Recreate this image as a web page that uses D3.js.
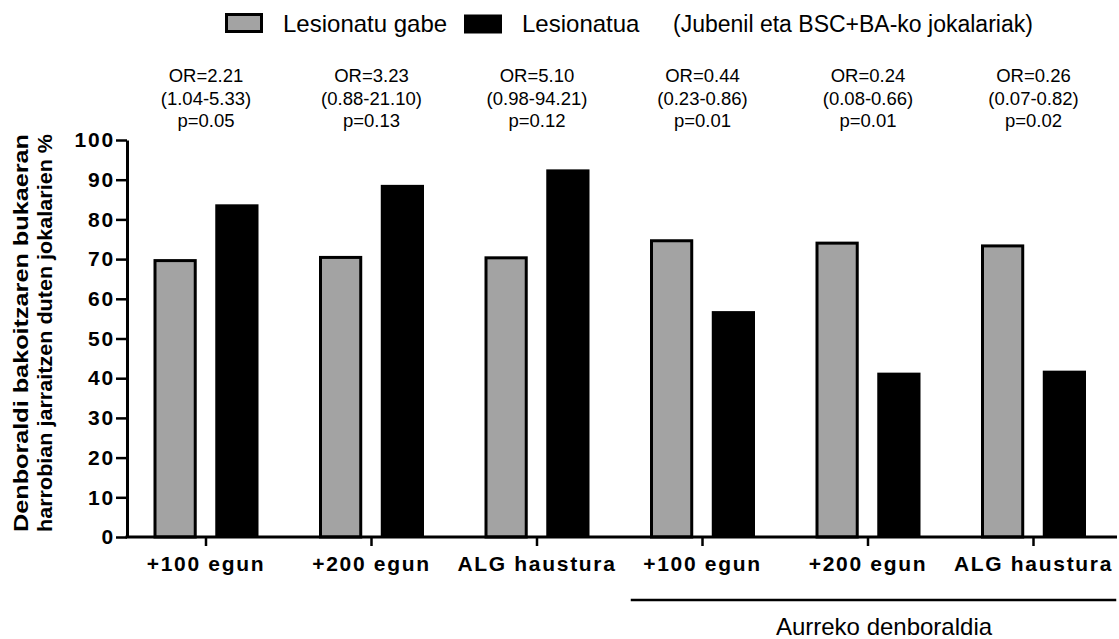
<!DOCTYPE html>
<html>
<head>
<meta charset="utf-8">
<script src="https://cdn.jsdelivr.net/npm/d3@7"></script>
<style>
  body { margin: 0; background: #fff; }
  svg { font-family: "Liberation Sans", Arial, sans-serif; }
</style>
</head>
<body>
<div id="chart"></div>
<script>
// Chart data
const categories = ["+100 egun", "+200 egun", "ALG haustura", "+100 egun", "+200 egun", "ALG haustura"];
const notInjured = [70.0, 70.8, 70.7, 75.0, 74.4, 73.7];
const injured = [83.8, 88.7, 92.6, 56.9, 41.4, 41.9];
const orLabels = ["OR=2.21", "OR=3.23", "OR=5.10", "OR=0.44", "OR=0.24", "OR=0.26"];
const ciLabels = ["(1.04-5.33)", "(0.88-21.10)", "(0.98-94.21)", "(0.23-0.86)", "(0.08-0.66)", "(0.07-0.82)"];
const pLabels = ["p=0.05", "p=0.13", "p=0.12", "p=0.01", "p=0.01", "p=0.02"];
const yTicks = [0, 10, 20, 30, 40, 50, 60, 70, 80, 90, 100];
const seriesNames = ["Lesionatu gabe", "Lesionatua"];

const width = 1119;
const height = 639;

const svg = d3.select("#chart")
    .append("svg")
    .attr("width", width)
    .attr("height", height);

const idx = categories.map((d, i) => i);

const x = d3.scaleBand()
    .domain(idx)
    .range([123.25, 1116.25])
    .padding(0);

const x1 = d3.scaleBand()
    .domain([0, 1])
    .range([-52.5, 52.5])
    .paddingInner(0.3);

const y = d3.scaleLinear()
    .domain([0, 100])
    .range([537, 140]);

const colors = ["#a3a3a3", "#000000"];

// Bars
const groups = svg.selectAll(".group")
    .data(idx)
    .enter()
    .append("g")
    .attr("transform", i => `translate(${x(i) + x.bandwidth() / 2},0)`);

groups.append("rect")
    .attr("x", x1(0) + 1.5)
    .attr("width", x1.bandwidth() - 3)
    .attr("y", i => y(notInjured[i]) + 1.5)
    .attr("height", i => y(0) - y(notInjured[i]) - 1.5)
    .attr("fill", colors[0])
    .attr("stroke", "#000")
    .attr("stroke-width", 3);

groups.append("rect")
    .attr("x", x1(1))
    .attr("width", x1.bandwidth())
    .attr("y", i => y(injured[i]))
    .attr("height", i => y(0) - y(injured[i]))
    .attr("fill", colors[1]);

// OR annotations
const notes = [orLabels, ciLabels, pLabels];
const noteY = [82, 105, 127];
notes.forEach((arr, k) => {
    svg.selectAll(".note" + k)
        .data(idx)
        .enter()
        .append("text")
        .attr("x", i => x(i) + x.bandwidth() / 2)
        .attr("y", noteY[k])
        .attr("text-anchor", "middle")
        .attr("font-size", 18.5)
        .text(i => arr[i]);
});

// Y axis
const yAxis = svg.append("g")
    .attr("transform", "translate(127,0)")
    .call(d3.axisLeft(y).tickValues(yTicks).tickSize(11).tickSizeOuter(0).tickPadding(1));
yAxis.select(".domain").attr("stroke-width", 3);
yAxis.selectAll(".tick line").attr("stroke-width", 2.5);
yAxis.selectAll(".tick text")
    .attr("font-size", 21)
    .attr("font-weight", "bold")
    .attr("letter-spacing", "1.8px")
    .attr("fill", "#000")
    .attr("font-family", "Liberation Sans, Arial, sans-serif");

// X axis
const xAxis = svg.append("g")
    .attr("transform", "translate(0,537)")
    .call(d3.axisBottom(x).tickSize(9).tickPadding(10).tickFormat(i => categories[i]));
xAxis.select(".domain").remove();
xAxis.selectAll(".tick line").attr("stroke-width", 2.5);
xAxis.selectAll(".tick text")
    .attr("font-size", 21)
    .attr("font-weight", "bold")
    .attr("letter-spacing", "1.7px")
    .attr("fill", "#000")
    .attr("font-family", "Liberation Sans, Arial, sans-serif");

svg.append("line")
    .attr("x1", 125.5)
    .attr("x2", 1117)
    .attr("y1", 537)
    .attr("y2", 537)
    .attr("stroke", "#000")
    .attr("stroke-width", 3);

// Group bracket
svg.append("line")
    .attr("x1", x(3) + 11)
    .attr("x2", x(5) + x.bandwidth())
    .attr("y1", 600)
    .attr("y2", 600)
    .attr("stroke", "#000")
    .attr("stroke-width", 2.5);

svg.append("text")
    .attr("x", x(4) + x.bandwidth() / 2 + 16)
    .attr("y", 635)
    .attr("text-anchor", "middle")
    .attr("font-size", 24)
    .text("Aurreko denboraldia");

// Y axis title
const yTitle = svg.append("text")
    .attr("transform", "translate(0,333) rotate(-90)")
    .attr("text-anchor", "middle")
    .attr("font-size", 21)
    .attr("font-weight", "bold");
yTitle.append("tspan").attr("x", 0).attr("y", 28)
    .attr("textLength", 398).attr("lengthAdjust", "spacingAndGlyphs")
    .text("Denboraldi bakoitzaren bukaeran");
yTitle.append("tspan").attr("x", 0).attr("y", 52)
    .attr("textLength", 398).attr("lengthAdjust", "spacingAndGlyphs")
    .text("harrobian jarraitzen duten jokalarien %");

// Legend
const legend = svg.append("g");
const legX = [226.5, 464];
const legTextX = [283, 522];
seriesNames.forEach((name, k) => {
    legend.append("rect")
        .attr("x", legX[k])
        .attr("y", 14.5)
        .attr("width", k === 0 ? 35 : 38)
        .attr("height", k === 0 ? 17 : 19)
        .attr("fill", colors[k])
        .attr("stroke", "#000")
        .attr("stroke-width", k === 0 ? 3 : 0);
    legend.append("text")
        .attr("x", legTextX[k])
        .attr("y", 32)
        .attr("font-size", 24)
        .text(name);
});
legend.append("text")
    .attr("x", 673)
    .attr("y", 32)
    .attr("font-size", 23)
    .text("(Jubenil eta BSC+BA-ko jokalariak)");
</script>
</body>
</html>
